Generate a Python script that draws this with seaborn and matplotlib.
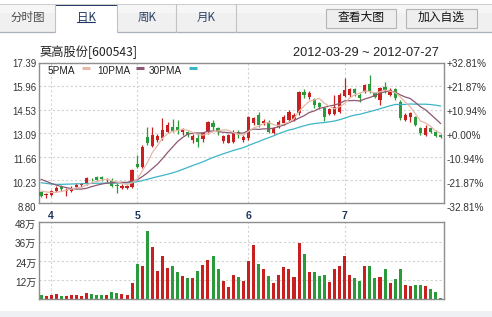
import numpy as np
import pandas as pd
import matplotlib
matplotlib.use("Agg")
import matplotlib.pyplot as plt
from matplotlib.patches import Rectangle
from matplotlib.lines import Line2D
import seaborn as sns

# ---------------- data ----------------
opens = [9.49, 9.31, 9.31, 9.57, 9.80, 9.57, 9.55, 9.82, 9.92, 9.98,
         10.31, 10.43, 10.43, 10.21, 10.21, 9.92, 9.72, 9.76, 9.78, 11.19,
         11.04, 12.88, 12.31, 12.68, 12.78, 13.19, 13.50, 13.50, 13.14, 13.19,
         12.68, 12.82, 12.72, 13.19, 13.70, 13.43, 12.62, 12.51, 12.58, 13.19,
         12.68, 12.78, 13.70, 14.21, 13.70, 13.80, 13.09, 13.50, 13.70, 13.90,
         13.96, 14.31, 15.64, 15.33, 15.17, 14.92, 14.62, 14.27, 14.27, 14.41,
         15.37, 15.43, 15.78, 15.43, 15.64, 16.11, 15.54, 15.13, 15.94, 15.43,
         15.78, 15.03, 13.90, 14.07, 14.07, 13.39, 12.98, 13.39, 13.19, 12.98]
highs = [9.55, 9.45, 9.62, 9.86, 9.90, 9.72, 9.86, 10.02, 10.06, 10.43,
         10.37, 10.47, 10.49, 10.33, 10.37, 10.02, 9.98, 9.92, 10.90, 11.76,
         12.37, 13.50, 13.50, 13.03, 14.01, 13.80, 13.94, 13.90, 13.39, 13.25,
         13.05, 13.09, 13.19, 13.84, 13.90, 13.50, 12.98, 13.05, 13.29, 13.29,
         12.98, 14.15, 14.11, 14.41, 13.94, 13.90, 13.50, 13.90, 14.21, 14.52,
         14.31, 15.70, 15.78, 15.70, 15.27, 15.03, 14.72, 14.66, 15.43, 15.54,
         16.45, 15.88, 15.88, 15.54, 16.11, 16.66, 15.64, 15.94, 16.25, 15.84,
         15.84, 15.13, 14.31, 14.41, 14.15, 13.50, 13.60, 13.50, 13.29, 13.05]
lows = [9.17, 9.10, 9.25, 9.51, 9.57, 9.25, 9.47, 9.76, 9.82, 9.92,
        10.19, 10.19, 10.19, 10.13, 9.82, 9.41, 9.66, 9.66, 9.72, 10.94,
        10.94, 12.37, 12.23, 12.58, 12.68, 13.09, 13.19, 13.05, 12.98, 12.84,
        12.47, 12.27, 12.58, 13.05, 13.29, 12.98, 12.47, 12.47, 12.47, 12.78,
        12.58, 12.68, 13.60, 13.50, 13.60, 13.09, 13.05, 13.39, 13.60, 13.80,
        13.86, 14.21, 15.23, 15.17, 14.62, 14.56, 13.86, 14.21, 14.21, 14.35,
        15.29, 15.33, 15.37, 15.03, 15.54, 15.54, 15.23, 14.82, 15.54, 15.37,
        15.13, 13.90, 13.84, 13.80, 13.54, 12.98, 12.94, 13.09, 12.84, 12.78]
closes = [9.25, 9.37, 9.55, 9.76, 9.66, 9.64, 9.76, 9.90, 9.98, 10.33,
          10.27, 10.23, 10.27, 10.27, 9.88, 9.86, 9.86, 9.84, 10.84, 11.00,
          12.27, 12.47, 12.98, 12.92, 13.29, 13.60, 13.25, 13.25, 13.29, 12.98,
          12.92, 12.58, 13.09, 13.80, 13.50, 13.19, 12.92, 12.96, 13.09, 12.98,
          12.88, 14.11, 14.01, 13.60, 13.84, 13.19, 13.39, 13.80, 14.11, 14.41,
          14.21, 15.64, 15.43, 15.54, 14.82, 14.72, 14.11, 14.56, 14.72, 15.43,
          15.74, 15.78, 15.54, 15.23, 16.05, 15.64, 15.33, 15.88, 15.74, 15.74,
          15.23, 14.01, 14.21, 14.31, 13.60, 13.09, 13.39, 13.19, 12.92, 12.84]
volumes = [2.6, 2.0, 2.6, 3.2, 2.0, 2.1, 2.6, 2.6, 2.0, 3.8,
           3.2, 2.6, 2.6, 2.6, 4.4, 3.8, 3.2, 2.6, 10.2, 22.0,
           20.7, 42.8, 32.8, 17.6, 27.0, 19.6, 20.7, 16.9, 14.4, 13.2,
           13.2, 17.6, 21.3, 24.4, 26.9, 18.9, 11.3, 7.6, 15.0, 13.8,
           11.3, 23.8, 33.8, 22.0, 18.9, 14.4, 10.1, 15.1, 20.1, 18.9,
           13.9, 35.0, 28.4, 16.9, 16.9, 14.4, 15.1, 10.6, 18.9, 20.7,
           26.9, 15.1, 13.2, 11.3, 20.7, 20.7, 13.2, 13.9, 18.9, 10.1,
           12.6, 18.7, 8.9, 8.2, 8.9, 8.9, 8.2, 6.3, 4.5, 0.8]  # 万

# moving-average values visible before the full window is available
ma5_head = [9.55, 9.50, 9.46, 9.48]
ma10_head = [10.27, 10.15, 10.02, 9.92, 9.83, 9.76, 9.70, 9.67, 9.67]
ma30_head = [10.06, 10.02, 9.98, 9.96, 9.96, 9.97, 9.98, 9.99, 10.00, 10.01,
             10.02, 10.03, 10.03, 10.04, 10.04, 10.04, 10.04, 10.05, 10.08, 10.12,
             10.19, 10.27, 10.35, 10.43, 10.50, 10.58, 10.66, 10.76, 10.88]

month_labels = ["4", "5", "6", "7"]
month_idx = [2, 19, 41, 60]
price_ticks = [8.80, 10.23, 11.66, 13.09, 14.53, 15.96, 17.39]
price_labels = ["8.80", "10.23", "11.66", "13.09", "14.53", "15.96", "17.39"]
pct_labels = ["-32.81%", "-21.87%", "-10.94%", "+0.00%", "+10.94%", "+21.87%", "+32.81%"]
vol_ticks = [12, 24, 36, 48]
vol_labels = ["12万", "24万", "36万", "48万"]
ma_names = ["5PMA", "10PMA", "30PMA"]
tabs = ["分时图", "日K", "周K", "月K"]
buttons = ["查看大图", "加入自选"]
title = "莫高股份[600543]"
date_range = "2012-03-29 ~ 2012-07-27"

# ---------------- styling ----------------
sns.set_theme(style="white")
plt.rcParams['font.family'] = ['Liberation Sans', 'Noto Sans CJK SC', 'DejaVu Sans']
CJK = ['Noto Sans CJK SC', 'Liberation Sans']

RED = "#c8201f"
GREEN = "#2a9a3a"
C5, C10, C30 = "#e6b9a8", "#8c5873", "#3db5c6"
GRID = "#d2d2d2"
SPINE = "#8e8e8e"
TXT = "#333333"

W, H = 492, 317
fig = plt.figure(figsize=(W / 100, H / 100), dpi=100)
fig.patch.set_facecolor("white")


def fx(x):
    return x / W


def fy(y):
    return 1 - y / H


def add_rect(x0, y0, x1, y1, **kw):
    fig.add_artist(Rectangle((fx(x0), fy(y1)), (x1 - x0) / W, (y1 - y0) / H,
                             transform=fig.transFigure, **kw))


def add_line(x0, y0, x1, y1, **kw):
    fig.add_artist(Line2D([fx(x0), fx(x1)], [fy(y0), fy(y1)],
                          transform=fig.transFigure, **kw))


# ---------------- data frame ----------------
n = len(closes)
idx = np.arange(n)
df = pd.DataFrame(dict(idx=idx, open=opens, high=highs, low=lows,
                       close=closes, vol=volumes))
df["dir"] = np.where(df["close"] >= df["open"], "up", "down")
colors = df["dir"].map({"up": RED, "down": GREEN}).tolist()

cs = pd.Series(closes)
ma5 = cs.rolling(5).mean().to_numpy()
ma5[:len(ma5_head)] = ma5_head
ma10 = cs.rolling(10).mean().to_numpy()
ma10[:len(ma10_head)] = ma10_head
ma30 = cs.rolling(30).mean().to_numpy()
ma30[:len(ma30_head)] = ma30_head

XL = (-0.4, n - 1 + 0.65)

# ---------------- main price axes ----------------
ax = fig.add_axes([fx(39), fy(203.3), 405 / W, 140.3 / H])
ax.set_facecolor("white")
ax.vlines(df["idx"], df["low"], df["high"], colors=colors, lw=0.9, zorder=2)
body_bottom = np.minimum(df["open"], df["close"])
body_h = np.maximum((df["close"] - df["open"]).abs(), 0.03)
ax.bar(df["idx"], body_h, bottom=body_bottom, width=0.64, color=colors,
       linewidth=0, zorder=3)
for ma, c in zip([ma30, ma10, ma5], [C30, C10, C5]):
    sns.lineplot(x=idx, y=ma, color=c, lw=0.9, ax=ax, zorder=4)

ax.set_xlim(*XL)
ax.set_ylim(price_ticks[0], price_ticks[-1])
ax.set_xticks(month_idx)
ax.set_yticks(price_ticks[1:-1])
ax.tick_params(length=0, labelbottom=False, labelleft=False)
ax.grid(True, color=GRID, lw=0.8, ls=(0, (2, 2)))
ax.set_axisbelow(True)
ax.set_xlabel("")
ax.set_ylabel("")
for s in ax.spines.values():
    s.set_color(SPINE)
    s.set_linewidth(1)

nt = len(price_ticks)
for j, (p, lab, pl) in enumerate(zip(price_ticks, price_labels, pct_labels)):
    k = nt - 1 - j
    off = -(0.67 + 0.67 * k) * 0.72
    ax.annotate(lab, xy=(0, p), xycoords=("axes fraction", "data"),
                xytext=(-1.9, off), textcoords="offset points",
                ha="right", va="center", fontsize=6.9, color=TXT,
                annotation_clip=False)
    ax.annotate(pl, xy=(1, p), xycoords=("axes fraction", "data"),
                xytext=(1.9, off), textcoords="offset points",
                ha="left", va="center", fontsize=7.2, color=TXT,
                annotation_clip=False)

for m, lab in zip(month_idx, month_labels):
    ax.annotate(lab, xy=(m, 0), xycoords=("data", "axes fraction"),
                xytext=(0, -9.2), textcoords="offset points",
                ha="center", va="center", fontsize=7.6, fontweight="bold",
                color="#1f3560", annotation_clip=False)

# ---------------- volume axes ----------------
axv = fig.add_axes([fx(39), fy(299.3), 405 / W, 77 / H])
axv.set_facecolor("white")
sns.barplot(data=df, x="idx", y="vol", hue="dir",
            palette={"up": RED, "down": GREEN}, dodge=False, native_scale=True,
            width=0.6, legend=False, errorbar=None, saturation=1,
            linewidth=0, ax=axv)
axv.set_xlim(*XL)
axv.set_ylim(0, 48)
axv.set_xticks(month_idx)
axv.set_yticks(vol_ticks[:-1])
axv.tick_params(length=0, labelbottom=False, labelleft=False)
axv.grid(True, color=GRID, lw=0.8, ls=(0, (2, 2)))
axv.set_axisbelow(True)
axv.set_xlabel("")
axv.set_ylabel("")
for s in axv.spines.values():
    s.set_color(SPINE)
    s.set_linewidth(1)
for v, lab in zip(vol_ticks, vol_labels):
    axv.annotate(lab, xy=(0, v), xycoords=("axes fraction", "data"),
                 xytext=(-1.9, -2.0), textcoords="offset points",
                 ha="right", va="center", fontsize=7.2, color=TXT,
                 annotation_clip=False)

# ---------------- legend inside price panel ----------------
leg_x = [48, 97, 149]
sw_x = [82, 136, 189]
for name, tx, sx, c in zip(ma_names, leg_x, sw_x, [C5, C10, C30]):
    fig.text(fx(tx), fy(70.8), name, ha="left", va="center", fontsize=7.2,
             color="#222222")
    add_line(sx, 68.3, sx + 8, 68.3, color=c, lw=2.2, solid_capstyle="butt")

# ---------------- header: tabs, buttons, title ----------------
add_rect(0, 4, 492, 31.5, facecolor="#f0f0f0", edgecolor="none")
add_rect(0, 4, 492, 13, facecolor="#f6f6f6", edgecolor="none")
add_line(0, 4, 492, 4, color="#cfcfcf", lw=0.8)
add_line(0, 31.5, 55, 31.5, color="#a9b0bb", lw=0.9)
add_line(117, 31.5, 492, 31.5, color="#a9b0bb", lw=0.9)
add_rect(55, 4, 117, 32.5, facecolor="white", edgecolor="none")
add_rect(55, 3.5, 117, 5.5, facecolor="#1f3560", edgecolor="none")
for sx in [55, 117, 176, 236]:
    add_line(sx, 4, sx, 31.5, color="#c2c2c2", lw=0.8)

tab_x = [27.5, 86, 147, 206]
tab_c = ["#4a4a4a", "#1f3560", "#2a3f66", "#2a3f66"]
for t, tx, c in zip(tabs, tab_x, tab_c):
    fig.text(fx(tx), fy(17), t, ha="center", va="center", fontsize=8.3,
             color=c, family=CJK)
add_line(77, 21.5, 95, 21.5, color="#1f3560", lw=0.8)

for b, (x0, x1) in zip(buttons, [(326, 396), (406, 477)]):
    add_rect(x0, 8.5, x1, 28, facecolor="#eeeeee", edgecolor="#b5b5b5", lw=0.8)
    fig.text(fx((x0 + x1) / 2), fy(17.5), b, ha="center", va="center",
             fontsize=8.5, color="#111111", family=CJK)

fig.text(fx(40), fy(52.5), title, ha="left", va="center", fontsize=8.8,
         color="#222222", family=CJK)
fig.text(fx(293), fy(52.5), date_range, ha="left", va="center", fontsize=9.2,
         color="#222222")

add_rect(0, 311, 492, 317, facecolor="#eef0f4", edgecolor="none")

fig.savefig("out.png", dpi=100, facecolor="white")
